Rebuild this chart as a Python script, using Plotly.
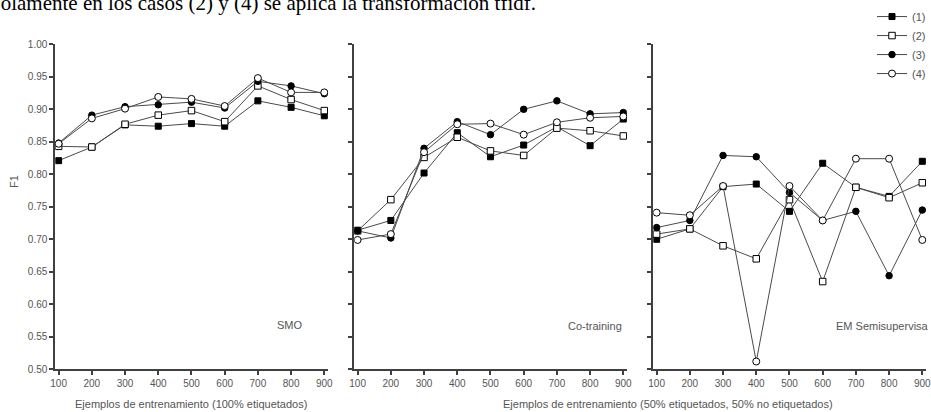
import plotly.graph_objects as go

W, H = 931, 412

x_vals = [100, 200, 300, 400, 500, 600, 700, 800, 900]
series_names = ["(1)", "(2)", "(3)", "(4)"]

# SMO (100% etiquetados)
smo_1 = [0.821, 0.842, 0.876, 0.874, 0.878, 0.874, 0.913, 0.903, 0.890]
smo_2 = [0.843, 0.842, 0.877, 0.891, 0.898, 0.881, 0.936, 0.915, 0.898]
smo_3 = [0.848, 0.891, 0.904, 0.907, 0.911, 0.902, 0.943, 0.936, 0.924]
smo_4 = [0.847, 0.886, 0.901, 0.919, 0.916, 0.905, 0.948, 0.926, 0.926]

# Co-training
cot_1 = [0.714, 0.729, 0.802, 0.864, 0.827, 0.845, 0.873, 0.844, 0.885]
cot_2 = [0.713, 0.761, 0.826, 0.857, 0.836, 0.829, 0.871, 0.867, 0.859]
cot_3 = [0.713, 0.702, 0.840, 0.881, 0.861, 0.900, 0.913, 0.893, 0.895]
cot_4 = [0.699, 0.708, 0.834, 0.877, 0.878, 0.861, 0.880, 0.887, 0.889]

# EM Semisupervisado
em_1 = [0.700, 0.716, 0.781, 0.785, 0.743, 0.817, 0.780, 0.766, 0.820]
em_2 = [0.708, 0.716, 0.690, 0.670, 0.761, 0.635, 0.780, 0.764, 0.787]
em_3 = [0.718, 0.729, 0.829, 0.827, 0.772, 0.729, 0.743, 0.644, 0.745]
em_4 = [0.741, 0.737, 0.782, 0.512, 0.782, 0.729, 0.824, 0.824, 0.699]

panel_labels = ["SMO", "Co-training", "EM Semisupervisa"]
x_title_1 = "Ejemplos de entrenamiento (100% etiquetados)"
x_title_2 = "Ejemplos de entrenamiento (50% etiquetados, 50% no etiquetados)"
y_title = "F1"
caption = "Solamente en los casos (2) y (4) se aplica la transformación tfidf."

panels = [
    [smo_1, smo_2, smo_3, smo_4],
    [cot_1, cot_2, cot_3, cot_4],
    [em_1, em_2, em_3, em_4],
]

marker_styles = [
    dict(symbol="square", color="black", size=6, line=dict(color="black", width=1)),
    dict(symbol="square", color="white", size=6.5, line=dict(color="black", width=1)),
    dict(symbol="circle", color="black", size=6.5, line=dict(color="black", width=1)),
    dict(symbol="circle", color="white", size=7, line=dict(color="black", width=1)),
]

line_col = "#4a4a4a"
text_col = "#555555"
font_fam = "Liberation Sans, Arial, sans-serif"

fig = go.Figure()

for p, data in enumerate(panels):
    xa = "x" if p == 0 else f"x{p+1}"
    ya = "y" if p == 0 else f"y{p+1}"
    for s, vals in enumerate(data):
        fig.add_trace(go.Scatter(
            x=x_vals, y=vals, mode="lines+markers",
            name=series_names[s],
            legendgroup=series_names[s],
            showlegend=(p == 2),
            line=dict(color=line_col, width=1),
            marker=marker_styles[s],
            xaxis=xa, yaxis=ya,
        ))

# pixel geometry of the three panels
left_px = [55.3, 354.3, 653.3]
width_px = 273.0
top_px, bottom_px = 44.3, 369.3

def px_x(v):
    return v / W

def px_y(v):
    return 1 - v / H

axis_common = dict(
    showline=True, linecolor="#404040", linewidth=2,
    ticks="outside", ticklen=4, tickwidth=1.5, tickcolor="#404040",
    showgrid=False, zeroline=False, automargin=False,
    ticklabeloverflow="allow",
    tickfont=dict(size=10, color=text_col, family=font_fam),
)

layout = dict(
    width=W, height=H,
    margin=dict(l=0, r=0, t=0, b=0, pad=0, autoexpand=False),
    paper_bgcolor="white", plot_bgcolor="white",
    font=dict(family=font_fam, color=text_col, size=11),
    legend=dict(
        x=1.0, xanchor="right", y=0.995, yanchor="top",
        font=dict(size=11, color=text_col, family=font_fam),
        bgcolor="rgba(0,0,0,0)", borderwidth=0,
        itemwidth=30, tracegroupgap=0,
    ),
)

for p in range(3):
    xkey = "xaxis" if p == 0 else f"xaxis{p+1}"
    ykey = "yaxis" if p == 0 else f"yaxis{p+1}"
    yref = "y" if p == 0 else f"y{p+1}"
    xref = "x" if p == 0 else f"x{p+1}"
    layout[xkey] = dict(
        axis_common,
        domain=[px_x(left_px[p]), px_x(left_px[p] + width_px)],
        range=[90, 912], tickvals=x_vals, anchor=yref,
    )
    layout[ykey] = dict(
        axis_common,
        domain=[px_y(bottom_px), px_y(top_px)],
        range=[0.5, 1.0], dtick=0.05, tickformat=".2f",
        showticklabels=(p == 0), anchor=xref,
    )

fig.update_layout(**layout)


def label(text, x, y, size=11, xanchor="center", **kw):
    return dict(text=text, x=px_x(x), y=px_y(y), xref="paper", yref="paper",
                xanchor=xanchor, yanchor="middle", showarrow=False,
                font=dict(size=size, color=kw.pop("color", text_col),
                          family=kw.pop("family", font_fam)), **kw)


ann = [
    label(y_title, 14, 182, textangle=-90),
    label(x_title_1, 191, 404),
    label(x_title_2, 668, 404),
    label(panel_labels[0], 290, 325),
    label(panel_labels[1], 594.5, 326),
    label(panel_labels[2], 834, 326, xanchor="left"),
    label(caption, -13, 3, size=21, xanchor="left", color="black",
          family="Liberation Serif, Times New Roman, serif"),
]

fig.update_layout(annotations=ann)

fig.write_html(
    "out.html",
    config={"displayModeBar": False},
    post_script="document.body.style.margin='0';document.body.style.padding='0';",
)
